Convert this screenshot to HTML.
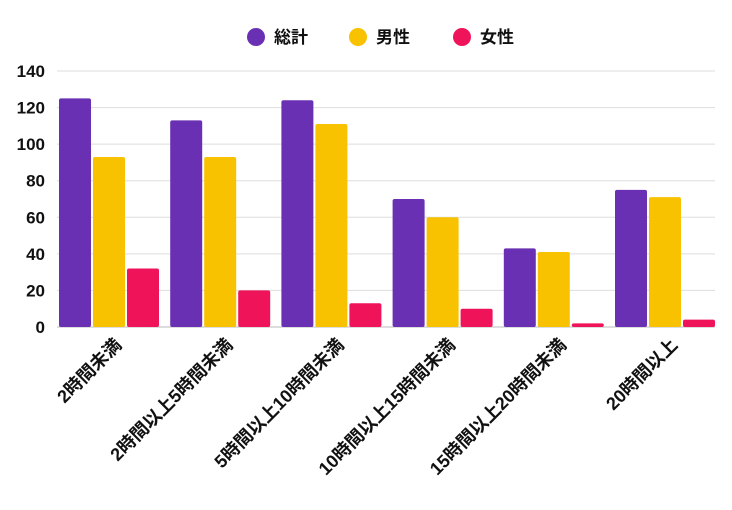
<!DOCTYPE html>
<html><head><meta charset="utf-8"><style>
body{margin:0;background:#fff;}
svg text{font-family:"Liberation Sans","Noto Sans CJK JP",sans-serif;font-weight:bold;fill:#111;}
</style></head><body>
<svg id="c" width="732" height="505">
<g id="legend"></g>
<g id="grid"></g>
<g id="bars"></g>
<g id="xl"></g>
</svg>
<script>
const categories=["2時間未満","2時間以上5時間未満","5時間以上10時間未満","10時間以上15時間未満","15時間以上20時間未満","20時間以上"];
const seriesNames=["総計","男性","女性"];
const totalVals=[125,113,124,70,43,75];
const maleVals=[93,93,111,60,41,71];
const femaleVals=[32,20,13,10,2,4];
const yTicks=[0,20,40,60,80,100,120,140];
const colors=["#6a30b4","#f8c200","#ef1459"];
const series=[totalVals,maleVals,femaleVals];
const NS="http://www.w3.org/2000/svg";
const x0=57,x1=715,y0=327,yTop=71,yMax=140;
const gw=111.2;
function y(v){return y0-(v/yMax)*(y0-yTop);}
function mk(t,a,p){const e=document.createElementNS(NS,t);for(const k in a)e.setAttribute(k,a[k]);p.appendChild(e);return e;}
const grid=document.getElementById('grid');
yTicks.forEach(v=>{
 const l=mk('line',{x1:x0,x2:x1,y1:y(v),y2:y(v),stroke:v===0?'#bbb':'#ddd','stroke-width':1},grid);
 
 
 const t=mk('text',{x:45,y:y(v)+6,'text-anchor':'end','font-size':17},grid);t.textContent=v;
 
 
});
const bars=document.getElementById('bars');
categories.forEach((c,i)=>{
 series.forEach((s,j)=>{
  const bx=x0+2+i*gw+j*34;
  const r=mk('rect',{x:bx,y:y(s[i]),width:32,height:y0-y(s[i]),fill:colors[j],rx:2},bars);
  
  
 });
 const cx=x0+i*gw+gw/2+10;
 const t=mk('text',{x:cx,y:346,'text-anchor':'end','font-size':18,transform:`rotate(-45 ${cx} 346)`},document.getElementById('xl'));
 t.textContent=c;
 
 
});
const lg=document.getElementById('legend');
const lx=[256,358,462];
seriesNames.forEach((n,j)=>{
 const c=mk('circle',{cx:lx[j],cy:37,r:9,fill:colors[j]},lg);
 
 
 const t=mk('text',{x:lx[j]+18,y:43,'font-size':17},lg);t.textContent=n;
 
 
});
</script>
</body></html>
